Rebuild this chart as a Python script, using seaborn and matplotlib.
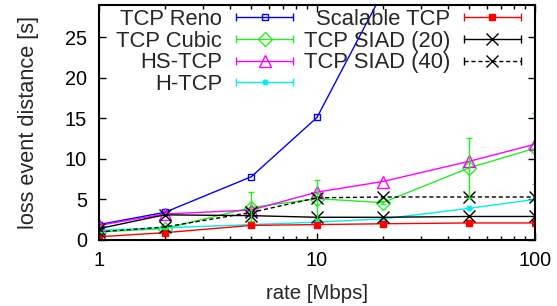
import numpy as np
import pandas as pd
import matplotlib
matplotlib.use("Agg")
import matplotlib.pyplot as plt
from matplotlib.lines import Line2D
from matplotlib.legend_handler import HandlerLine2D, HandlerTuple
import seaborn as sns

rates = [1, 2, 5, 10, 20, 50, 100]

reno = [1.9, 3.4, 7.8, 15.1, 30.5, 60.0, 110.0]
cubic = [1.0, 1.4, 4.0, 5.1, 4.6, 8.9, 11.3]
cubic_lo = [1.0, 1.3, 2.3, 2.6, 4.4, 5.2, 6.9]
cubic_hi = [1.0, 1.5, 5.9, 7.4, 4.8, 12.6, 15.7]
hstcp = [1.8, 3.2, 3.7, 5.9, 7.2, 9.7, 11.8]
htcp = [1.2, 1.5, 1.9, 2.2, 2.6, 3.9, 5.0]
scalable = [0.4, 0.9, 1.8, 1.9, 2.0, 2.1, 2.1]
siad20 = [1.4, 3.1, 3.0, 2.8, 2.8, 2.9, 2.9]
siad40 = [1.0, 1.6, 3.4, 5.2, 5.3, 5.3, 5.3]

names = ["TCP Reno", "TCP Cubic", "HS-TCP", "H-TCP",
         "Scalable TCP", "TCP SIAD (20)", "TCP SIAD (40)"]
series = [reno, cubic, hstcp, htcp, scalable, siad20, siad40]

styles = {
    "TCP Reno": dict(color="#0000ff", marker="s", ms=5, mfc="none", ls="-"),
    "TCP Cubic": dict(color="#22ee22", marker="D", ms=7, mfc="none", ls="-"),
    "HS-TCP": dict(color="#ff00ff", marker="^", ms=8, mfc="none", ls="-"),
    "H-TCP": dict(color="#00eeee", marker="o", ms=3.5, mfc="#00eeee", ls="-"),
    "Scalable TCP": dict(color="#ff0000", marker="s", ms=4.5, mfc="#ff0000", ls="-"),
    "TCP SIAD (20)": dict(color="#000000", marker="x", ms=8, mfc="none", ls="-"),
    "TCP SIAD (40)": dict(color="#000000", marker="x", ms=8, mfc="none", ls=(0, (3, 2))),
}

sns.set_theme(style="ticks")
plt.rcParams['font.family'] = ['Liberation Sans', 'DejaVu Sans']

fig = plt.figure(figsize=(5.57, 3.06), dpi=100)
ax = fig.add_axes([0.1777, 0.2157, 0.7828, 0.769])

handles = []
cap_handler = {}
for name, vals in zip(names, series):
    st = styles[name]
    sns.lineplot(x=rates, y=vals, ax=ax, color=st["color"], marker=st["marker"],
                 markersize=st["ms"], markerfacecolor=st["mfc"],
                 markeredgecolor=st["color"], markeredgewidth=1.0,
                 linestyle=st["ls"], linewidth=1.0, legend=False)
    # gnuplot-style legend sample: line with error-bar caps at both ends
    caps = Line2D([], [], color=st["color"], marker="|", markersize=6,
                  markeredgewidth=1.0, linestyle="none")
    main = Line2D([], [], color=st["color"], marker=st["marker"],
                  markersize=st["ms"], markerfacecolor=st["mfc"],
                  markeredgecolor=st["color"], markeredgewidth=1.0,
                  linestyle=st["ls"], linewidth=1.0)
    cap_handler[caps] = HandlerLine2D(numpoints=2, marker_pad=0)
    handles.append((caps, main))

cub = np.array(cubic)
ax.errorbar(rates, cubic, yerr=[cub - np.array(cubic_lo), np.array(cubic_hi) - cub],
            fmt="none", ecolor=styles["TCP Cubic"]["color"], elinewidth=1.0,
            capsize=2.5, capthick=1.0)

ax.set_xscale("log")
ax.set_xlim(1, 100)
ax.set_ylim(0, 29)
ax.set_yticks([0, 5, 10, 15, 20, 25])
ax.set_xticks([1, 10, 100])
ax.set_xticklabels(["1", "10", "100"])
ax.tick_params(which="both", direction="in", top=True, right=True,
               labelsize=14.3, colors="black")
ax.tick_params(which="major", length=5, width=1.0)
ax.tick_params(axis="y", which="major", pad=8.6)
ax.tick_params(axis="x", which="major", pad=8)
ax.tick_params(which="minor", length=3, width=1.0)
for s in ax.spines.values():
    s.set_linewidth(1.5)
    s.set_color("black")

ax.set_xlabel("rate [Mbps]", fontsize=14.7)
ax.set_ylabel("loss event distance [s]", fontsize=15.7)
ax.xaxis.set_label_coords(0.5, -0.185)
ax.yaxis.set_label_coords(-0.1385, 0.5)

hmap = {tuple: HandlerTuple(ndivide=1, pad=0)}
hmap.update(cap_handler)
fig.legend(handles, names, ncol=2, markerfirst=False, frameon=False,
           fontsize=15.8, loc="upper right", bbox_to_anchor=(521 / 557, 0.97),
           handlelength=2.6, handletextpad=0.64, columnspacing=0.46,
           labelspacing=0.03, borderaxespad=0.0, borderpad=0.0,
           handler_map=hmap)

fig.savefig("out.png", dpi=100)
